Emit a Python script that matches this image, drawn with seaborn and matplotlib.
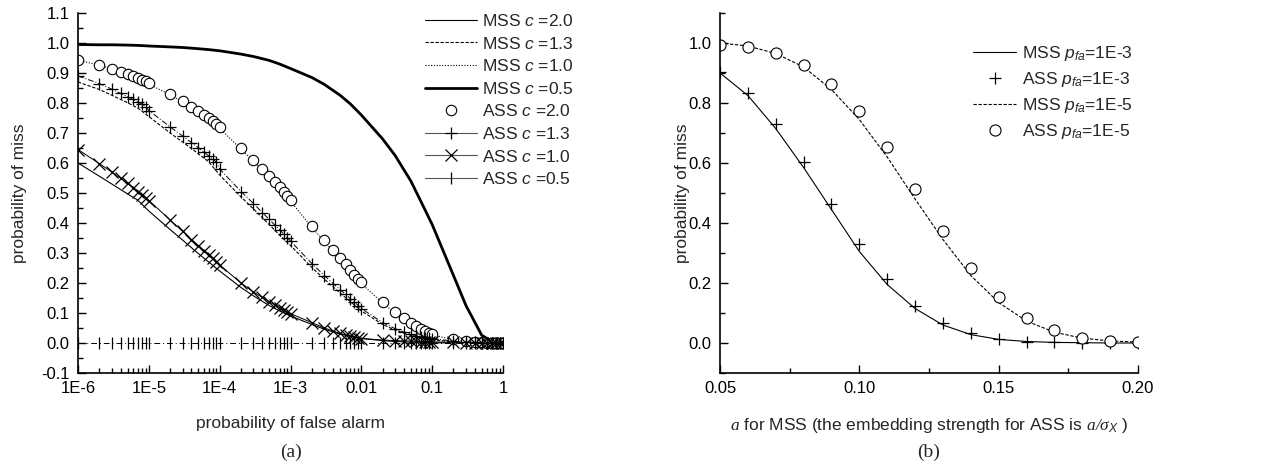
"""
Miss probability curves for MSS / ASS detectors, two panels.
"""
import numpy as np
import matplotlib
matplotlib.use("Agg")
import matplotlib.pyplot as plt
import seaborn as sns
from matplotlib.lines import Line2D
from matplotlib.ticker import MultipleLocator, LogLocator, NullFormatter

# ---------------- panel (a): pm vs pfa ----------------
# marker grid of the ASS series: k * 10^n, k = 1..9
PFA = [k * 10.0 ** n for n in range(-6, 0) for k in range(1, 10)] + [1.0]
# line grid of the MSS series: 1, 2, 3, 5, 7 per decade
PFA_LINE = [k * 10.0 ** n for n in range(-6, 0) for k in (1, 2, 3, 5, 7)] + [1.0]

ASS_C20 = [0.945, 0.928, 0.915, 0.905, 0.897, 0.890, 0.884, 0.878, 0.872,
           0.866, 0.830, 0.806, 0.788, 0.774, 0.761, 0.750, 0.740, 0.730,
           0.720, 0.650, 0.610, 0.580, 0.558, 0.538, 0.520, 0.505, 0.490,
           0.477, 0.390, 0.343, 0.310, 0.285, 0.262, 0.244, 0.228, 0.214,
           0.202, 0.137, 0.103, 0.082, 0.067, 0.056, 0.047, 0.040, 0.034,
           0.030, 0.012, 0.006, 0.003, 0.002, 0.001, 0.000, 0.000, 0.000,
           0.000]
ASS_C13 = [0.890, 0.865, 0.846, 0.832, 0.821, 0.812, 0.803, 0.796, 0.788,
           0.775, 0.720, 0.690, 0.668, 0.651, 0.636, 0.624, 0.613, 0.603,
           0.580, 0.505, 0.465, 0.435, 0.412, 0.393, 0.378, 0.364, 0.351,
           0.340, 0.265, 0.225, 0.198, 0.178, 0.162, 0.148, 0.136, 0.125,
           0.115, 0.068, 0.048, 0.037, 0.030, 0.025, 0.021, 0.018, 0.016,
           0.015, 0.006, 0.003, 0.002, 0.001, 0.001, 0.000, 0.000, 0.000,
           0.000]
ASS_C10 = [0.645, 0.598, 0.570, 0.549, 0.532, 0.518, 0.505, 0.494, 0.484,
           0.475, 0.410, 0.372, 0.345, 0.325, 0.308, 0.294, 0.282, 0.271,
           0.260, 0.200, 0.170, 0.152, 0.138, 0.127, 0.118, 0.110, 0.104,
           0.098, 0.068, 0.050, 0.040, 0.032, 0.027, 0.023, 0.020, 0.017,
           0.015, 0.010, 0.008, 0.007, 0.006, 0.006, 0.005, 0.005, 0.005,
           0.004, 0.002, 0.001, 0.001, 0.000, 0.000, 0.000, 0.000, 0.000,
           0.000]
ASS_C05 = [0.0, 0.0, 0.0, 0.0, 0.0, 0.0, 0.0, 0.0, 0.0,
           0.0, 0.0, 0.0, 0.0, 0.0, 0.0, 0.0, 0.0, 0.0,
           0.0, 0.0, 0.0, 0.0, 0.0, 0.0, 0.0, 0.0, 0.0,
           0.0, 0.0, 0.0, 0.0, 0.0, 0.0, 0.0, 0.0, 0.0,
           0.0, 0.0, 0.0, 0.0, 0.0, 0.0, 0.0, 0.0, 0.0,
           0.0, 0.0, 0.0, 0.0, 0.0, 0.0, 0.0, 0.0, 0.0,
           0.0]

MSS_C20 = [0.600, 0.556, 0.530, 0.497, 0.476,
           0.440, 0.378, 0.343, 0.298, 0.270,
           0.240, 0.185, 0.157, 0.125, 0.107,
           0.090, 0.062, 0.046, 0.030, 0.022,
           0.015, 0.008, 0.005, 0.003, 0.002,
           0.001, 0.000, 0.000, 0.000, 0.000,
           0.000]
MSS_C13 = [0.870, 0.845, 0.826, 0.801, 0.783,
           0.755, 0.700, 0.670, 0.631, 0.604,
           0.560, 0.487, 0.447, 0.395, 0.360,
           0.325, 0.252, 0.213, 0.167, 0.138,
           0.107, 0.062, 0.043, 0.026, 0.018,
           0.011, 0.004, 0.002, 0.001, 0.000,
           0.000]
MSS_C10 = [0.943, 0.926, 0.913, 0.895, 0.882,
           0.863, 0.827, 0.803, 0.771, 0.747,
           0.716, 0.646, 0.606, 0.554, 0.516,
           0.473, 0.386, 0.339, 0.281, 0.240,
           0.198, 0.133, 0.100, 0.064, 0.045,
           0.028, 0.010, 0.005, 0.001, 0.000,
           0.000]
MSS_C05 = [0.995, 0.994, 0.994, 0.993, 0.992,
           0.990, 0.987, 0.985, 0.981, 0.978,
           0.974, 0.963, 0.955, 0.942, 0.930,
           0.915, 0.885, 0.862, 0.826, 0.797,
           0.760, 0.680, 0.625, 0.540, 0.470,
           0.395, 0.225, 0.125, 0.026, 0.005,
           0.000]

# ---------------- panel (b): pm vs a ----------------
A_VALUES = [0.05, 0.06, 0.07, 0.08, 0.09, 0.10, 0.11, 0.12,
            0.13, 0.14, 0.15, 0.16, 0.17, 0.18, 0.19, 0.20]
MSS_E3 = [0.900, 0.825, 0.715, 0.585, 0.445, 0.305, 0.195, 0.115,
          0.060, 0.028, 0.012, 0.005, 0.002, 0.001, 0.000, 0.000]
ASS_E3 = [0.905, 0.835, 0.730, 0.605, 0.465, 0.330, 0.215, 0.125,
          0.068, 0.033, 0.013, 0.005, 0.002, 0.001, 0.000, 0.000]
MSS_E5 = [1.000, 0.990, 0.965, 0.920, 0.845, 0.745, 0.620, 0.480,
          0.345, 0.225, 0.135, 0.073, 0.036, 0.016, 0.007, 0.003]
ASS_E5 = [0.995, 0.988, 0.968, 0.928, 0.865, 0.772, 0.652, 0.512,
          0.372, 0.250, 0.152, 0.084, 0.042, 0.018, 0.008, 0.003]

PFA_TICKS = [1e-6, 1e-5, 1e-4, 1e-3, 1e-2, 1e-1, 1.0]
PFA_LABELS = ["1E-6", "1E-5", "1E-4", "1E-3", "0.01", "0.1", "1"]

sns.set_style("ticks")
plt.rcParams["font.family"] = ["Liberation Sans", "DejaVu Sans"]
plt.rcParams["mathtext.fontset"] = "custom"
plt.rcParams["mathtext.rm"] = "Liberation Sans"
plt.rcParams["mathtext.it"] = "Liberation Sans:italic"
plt.rcParams["mathtext.cal"] = "Liberation Serif:italic"
plt.rcParams["xtick.direction"] = "in"
plt.rcParams["ytick.direction"] = "in"

TICK_FS = 12
LABEL_FS = 12.5
K = "black"

fig = plt.figure(figsize=(12.63, 4.75), dpi=100)
ax1 = fig.add_axes([78 / 1263, 102 / 475, 425 / 1263, 360 / 475])
ax2 = fig.add_axes([720 / 1263, 102 / 475, 418 / 1263, 360 / 475])

# ---- (a)
ax1.set_xscale("log")
sns.lineplot(x=PFA_LINE, y=MSS_C20, ax=ax1, color=K, lw=0.8, ls="-")
sns.lineplot(x=PFA_LINE, y=MSS_C13, ax=ax1, color=K, lw=0.8, ls=(0, (3, 1.5)))
sns.lineplot(x=PFA_LINE, y=MSS_C10, ax=ax1, color=K, lw=0.8, ls=(0, (1, 1.5)))
sns.lineplot(x=PFA_LINE, y=MSS_C05, ax=ax1, color=K, lw=2.0, ls="-")
sns.lineplot(x=PFA, y=ASS_C20, ax=ax1, color=K, ls="none", marker="o", ms=7.5,
             mfc="white", mec=K, mew=0.8)
sns.lineplot(x=PFA, y=ASS_C13, ax=ax1, color=K, lw=0.7, ls=(0, (6, 2, 1, 2)),
             marker="+", ms=9, mec=K, mew=0.9)
sns.lineplot(x=PFA, y=ASS_C10, ax=ax1, color=K, lw=0.7, ls="-",
             marker="x", ms=8, mec=K, mew=0.9)
sns.lineplot(x=PFA, y=ASS_C05, ax=ax1, color=K, lw=0.7, ls=(0, (6, 3, 1, 3)),
             marker="|", ms=9, mec=K, mew=0.9)

ax1.set_xlim(1e-6, 1)
ax1.set_ylim(-0.1, 1.1)
ax1.set_xticks(PFA_TICKS, PFA_LABELS)
ax1.xaxis.set_minor_locator(LogLocator(base=10, subs=np.arange(2, 10)))
ax1.xaxis.set_minor_formatter(NullFormatter())
ax1.yaxis.set_major_locator(MultipleLocator(0.1))
ax1.yaxis.set_minor_locator(MultipleLocator(0.05))
ax1.yaxis.set_major_formatter(lambda v, p: f"{v:.1f}")
ax1.set_xlabel("probability of false alarm", fontsize=LABEL_FS)
ax1.set_ylabel("probability of miss", fontsize=LABEL_FS)

legend_a = [
    Line2D([], [], color=K, lw=0.8),
    Line2D([], [], color=K, lw=0.8, ls=(0, (3, 1.5))),
    Line2D([], [], color=K, lw=0.8, ls=(0, (1, 1.5))),
    Line2D([], [], color=K, lw=2.0),
    Line2D([], [], ls="none", marker="o", ms=7.5, mfc="white", mec=K, mew=0.8),
    Line2D([], [], color="#555555", lw=0.8, marker="+", ms=9, mec=K, mew=0.9),
    Line2D([], [], color="#555555", lw=0.8, marker="x", ms=8, mec=K, mew=0.9),
    Line2D([], [], color="#555555", lw=0.8, marker="|", ms=9, mec=K, mew=0.9),
]
labels_a = ["MSS $c$ =2.0", "MSS $c$ =1.3", "MSS $c$ =1.0", "MSS $c$ =0.5",
            "ASS $c$ =2.0", "ASS $c$ =1.3", "ASS $c$ =1.0", "ASS $c$ =0.5"]
fig.legend(legend_a, labels_a, loc="upper left",
           bbox_to_anchor=(418 / 1263, 1 - 6 / 475), frameon=False,
           fontsize=LABEL_FS, handlelength=3.0, handletextpad=0.3,
           labelspacing=0.38, borderaxespad=0)

# ---- (b)
sns.lineplot(x=A_VALUES, y=MSS_E3, ax=ax2, color=K, lw=0.8, ls="-")
sns.lineplot(x=A_VALUES, y=ASS_E3, ax=ax2, color=K, ls="none",
             marker="+", ms=9, mec=K, mew=0.9)
sns.lineplot(x=A_VALUES, y=MSS_E5, ax=ax2, color=K, lw=0.8, ls=(0, (3, 1.5)))
sns.lineplot(x=A_VALUES, y=ASS_E5, ax=ax2, color=K, ls="none",
             marker="o", ms=8, mfc="white", mec=K, mew=0.8)

ax2.set_xlim(0.05, 0.20)
ax2.set_ylim(-0.1, 1.1)
ax2.xaxis.set_major_locator(MultipleLocator(0.05))
ax2.xaxis.set_minor_locator(MultipleLocator(0.025))
ax2.xaxis.set_major_formatter(lambda v, p: f"{v:.2f}")
ax2.set_yticks([0.0, 0.2, 0.4, 0.6, 0.8, 1.0])
ax2.yaxis.set_minor_locator(MultipleLocator(0.1))
ax2.yaxis.set_major_formatter(lambda v, p: f"{v:.1f}")
ax2.set_xlabel(r"$\mathcal{a}$ for MSS (the embedding strength for ASS is "
               r"$\mathcal{a/σ}_{X}$ )", fontsize=LABEL_FS)
ax2.set_ylabel("probability of miss", fontsize=LABEL_FS)

legend_b = [
    Line2D([], [], color=K, lw=0.8),
    Line2D([], [], ls="none", marker="+", ms=9, mec=K, mew=0.9),
    Line2D([], [], color=K, lw=0.8, ls=(0, (3, 1.5))),
    Line2D([], [], ls="none", marker="o", ms=8, mfc="white", mec=K, mew=0.8),
]
labels_b = ["MSS $p_{fa}$=1E-3", "ASS $p_{fa}$=1E-3",
            "MSS $p_{fa}$=1E-5", "ASS $p_{fa}$=1E-5"]
fig.legend(legend_b, labels_b, loc="upper left",
           bbox_to_anchor=(966 / 1263, 1 - 37 / 475), frameon=False,
           fontsize=LABEL_FS, handlelength=2.5, handletextpad=0.3,
           labelspacing=0.4, borderaxespad=0)

for ax in (ax1, ax2):
    sns.despine(ax=ax)
    for s in ("left", "bottom"):
        ax.spines[s].set_linewidth(1.2)
        ax.spines[s].set_color(K)
    ax.tick_params(which="major", length=6, width=1.0, color=K,
                   labelsize=TICK_FS, labelcolor=K, pad=6)
    ax.tick_params(which="minor", length=3.5, width=1.0, color=K)
    if ax.get_legend() is not None:
        ax.get_legend().remove()

ax1.xaxis.set_label_coords(0.5, -0.12)
ax1.yaxis.set_label_coords(-0.12, 0.5)
ax2.xaxis.set_label_coords(0.5, -0.12)
ax2.yaxis.set_label_coords(-0.072, 0.5)

fig.text(291 / 1263, 1 - 452 / 475, "(a)", ha="center", va="center",
         fontsize=14, family="Liberation Serif")
fig.text(929 / 1263, 1 - 452 / 475, "(b)", ha="center", va="center",
         fontsize=14, family="Liberation Serif")

fig.savefig("out.png", dpi=100, facecolor="white")
